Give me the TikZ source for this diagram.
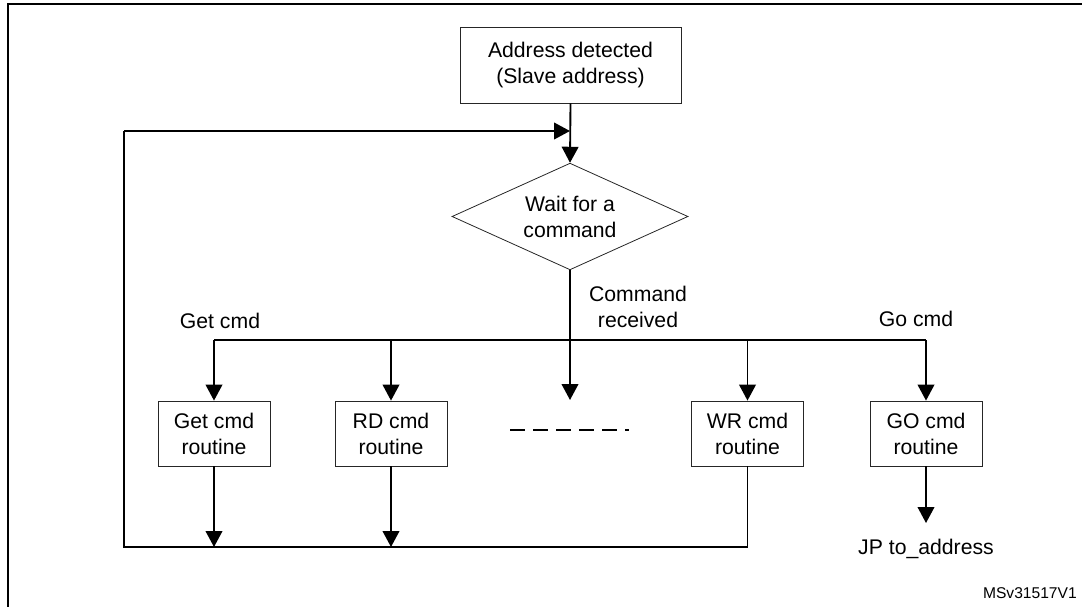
\documentclass[tikz,border=0pt]{standalone}
\usepackage{fontspec}
\setmainfont{Liberation Sans}
\usetikzlibrary{arrows.meta,shapes.geometric}
\begin{document}
\begin{tikzpicture}[x=0.75pt,y=-0.75pt,
  txt/.style={font=\fontsize{15.9}{19.5}\selectfont, align=center, inner sep=0pt},
  procbox/.style={txt, draw=black!85, line width=0.6pt, minimum width=84pt, minimum height=48.75pt},
  decision/.style={txt, diamond, draw=black!85, line width=0.6pt, aspect=2.2, minimum width=177pt, minimum height=80pt},
  conn/.style={line width=1.4pt, black},
  arr/.style={conn, -{Triangle[length=12pt,width=12.5pt]}},
  frameline/.style={line width=1.5pt, black}
]
\useasboundingbox (0,0) rectangle (1082,607);
% cropped outer frame
\draw[frameline] (8,607) -- (8,4) -- (1082,4);

% nodes
\node[txt, draw=black!85, line width=0.6pt, minimum width=165.75pt, minimum height=57pt] (addr) at (570.5,65) {Address detected\\(Slave address)};
\node[decision] (wait) at (570,216.5) {Wait for a\\command};
\node[procbox] (get) at (214,433.5) {Get cmd\\routine};
\node[procbox] (rd) at (391,433.5) {RD cmd\\routine};
\node[procbox] (wr) at (747.5,433.5) {WR cmd\\routine};
\node[procbox] (go) at (926,433.5) {GO cmd\\routine};

% labels
\node[txt, anchor=base] (lget) at (220,328) {Get cmd};
\node[txt] (lcmd) at (638,307) {Command\\received};
\node[txt, anchor=base] (lgo) at (916,326) {Go cmd};
\node[txt, anchor=base] (jp) at (926,554) {JP to\_address};
\node[font=\fontsize{11.7}{14}\selectfont, inner sep=0pt, anchor=base east] (ms) at (1077,598) {MSv31517V1};

% coordinates
\coordinate (join) at (570,131);
\coordinate (dtip) at (570,400);
\coordinate (busL) at (214,340);
\coordinate (busR) at (926,340);
\coordinate (botL) at (124,547);
\coordinate (topL) at (124,131);
\coordinate (dashS) at (510,430);
\coordinate (dashE) at (629,430);

% connectors
\draw[arr] (addr.south) -- (wait.north);
\draw[arr] (wait.south) -- (dtip);
\draw[conn] (busL) -- (busR);
\draw[arr] (busL) -- (get.north);
\draw[arr] (rd.north |- busL) -- (rd.north);
\draw[arr] (wr.north |- busL) -- (wr.north);
\draw[arr] (busR) -- (go.north);
\draw[arr] (get.south) -- (get.south |- botL);
\draw[arr] (rd.south) -- (rd.south |- botL);
\draw[conn] (wr.south) |- (botL) -- (topL);
\draw[arr] (topL) -- (join);
\draw[arr] (go.south) -- (go.south |- 0,523);
\draw[conn, dash pattern=on 11.25pt off 6pt] (dashS) -- (dashE);
\end{tikzpicture}
\end{document}
